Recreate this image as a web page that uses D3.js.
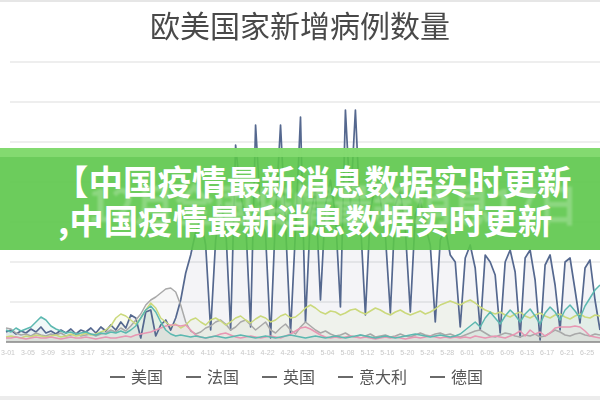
<!DOCTYPE html>
<html><head><meta charset="utf-8">
<script src="https://cdn.jsdelivr.net/npm/d3@7"></script>
<style>html,body{margin:0;padding:0;background:#fff;}svg{display:block;}</style>
</head><body>
<svg id="c" width="600" height="400"></svg>
<script>
const title = "欧美国家新增病例数量";
const seriesNames = ["美国", "法国", "英国", "意大利", "德国"];
const seriesColors = ["#55688f", "#a9a9a9", "#cbd97c", "#e897b3", "#5cb8b0"];
const tickLabels = ["3-01","3-05","3-09","3-13","3-17","3-21","3-25","3-29","4-02","4-06","4-10","4-14","4-18","4-22","4-26","4-30","5-04","5-08","5-12","5-16","5-20","5-24","5-28","6-01","6-05","6-09","6-13","6-17","6-21","6-25"];
const yTicks = [0,10000,20000,30000,40000,50000,60000,70000];
const bannerLines = ["【中国疫情最新消息数据实时更新", ",中国疫情最新消息数据实时更新"];
const bannerShadow = "12月全国疫情最新消息17日";

const usa = [2500,3000,2000,2750,2250,3250,2500,3750,2250,2750,
2000,3000,2250,3250,2000,3000,2500,3500,2250,3750,
2750,4250,3000,5000,3500,6750,6000,1000,7500,8000,
1500,4250,5500,3000,6000,10500,17250,21750,27500,31000,
24250,3000,25500,34250,29250,3000,49250,36750,30500,3750,
54250,33000,26750,1000,31750,54250,29250,2250,28000,56250,
5000,31750,38000,10500,34250,40500,31750,8750,58000,34250,
58000,30500,6750,33000,39250,35500,26750,7250,34250,38000,
28000,7500,31750,35500,29250,24250,5000,25500,28500,21750,
20000,3750,21000,24250,18500,3000,21750,20000,16750,2250,
20000,23000,17500,1250,21000,23000,15500,500,19250,21750,
14250,3000,20000,21000,13000,4750,18500,20500,10500,3000];
const france = [3500,3250,2250,1750,2000,1500,2250,1750,1500,2000,
1750,2250,1500,1750,2250,1500,1750,2000,1500,2000,
2250,3000,2500,3500,2750,4000,5500,7000,9250,10500,
11250,12250,13250,13500,12500,9250,5000,2750,2000,2500,
3500,4000,5000,5500,4500,3000,3750,5000,5500,4250,
3000,4000,5000,3000,2250,3500,4500,3000,2000,3750,
5000,4000,3000,2250,2750,2000,1500,1750,2250,1500,
1250,1750,1500,2000,1250,1500,1750,1250,1500,2000,
1500,1250,1750,2250,1750,1500,2000,2250,1750,2000,
1500,1250,1750,2250,2750,3000,2250,1500,1250,1750,
2250,2000,1500,1250,1750,1500,2000,1250,1500,2250,
3000,2500,1750,1500,2000,2250,1750,1500,2000,1750];
const uk = [1250,1500,1250,1000,1500,1250,1750,1500,1250,1500,
1750,1250,1500,2000,1500,1750,2250,1750,2000,2500,
3000,4000,6000,7000,6500,5500,4500,6000,8000,9750,
8500,6000,5000,4000,4500,3500,4250,5500,6000,5000,
4250,5500,6000,5250,4250,5000,6000,6500,5500,4750,
5750,6500,6000,5000,5500,6500,7000,6000,6250,7250,
8500,9250,8500,7500,7000,7750,7500,6750,7250,8000,
8250,7500,7000,7750,8500,8000,7250,6750,7500,8000,
7250,6750,7250,7750,7000,7500,8250,9250,9750,10250,
9750,9250,10000,10500,9750,8750,8000,7500,7000,7500,
6750,6250,7000,7500,6500,6000,6750,7250,6500,6000,
6750,7000,6250,5750,6500,7000,6250,6000,6750,6500];
const italy = [1000,1000,1250,1000,750,1000,1250,1000,1000,1250,
1000,750,1000,1250,1000,1000,1250,1000,750,1000,
1250,1000,1000,1250,1500,1250,1750,2000,2250,2500,
3000,3500,4000,4250,4250,4000,4250,3000,1750,1250,
1000,1250,1500,2000,2250,1750,1250,1000,1250,1500,
1250,1000,1250,1500,1250,1000,1500,2000,2750,3500,
3750,3250,2500,1750,1250,1000,1250,1000,1250,1500,
1250,1000,1250,1000,750,1000,1250,1000,1250,1000,
750,1000,1250,1000,1250,1500,1250,1000,1250,1000,
1250,1000,1250,1000,1500,1250,1000,1250,1500,1250,
1000,1500,2000,2750,1500,3000,2000,2500,1500,2250,
3500,3750,3750,3750,4000,3750,2750,1500,1250,1000];
const germany = [3000,2500,3500,2750,3250,3750,5000,6250,5500,4000,
3250,2750,2250,2500,2000,2250,2500,2000,1750,2250,
2000,2500,2250,2750,2250,3000,4000,6000,8000,9000,
7500,5000,3000,2000,1500,1750,1500,1250,1500,1250,
1000,1250,1500,1250,1000,1250,1500,1750,1500,1250,
1000,1250,1500,1250,1000,1250,1500,1750,1500,1250,
1000,1250,1500,1250,1000,1250,1500,1250,1000,1250,
1500,1750,1500,1250,1000,1250,1500,1250,1000,1250,
1500,1750,2000,1750,1500,1250,1500,1750,1500,1250,
1500,2000,3000,4000,5000,3750,6000,7500,6000,4500,
6500,8000,6750,5000,7000,8250,6500,4500,7250,8750,
7500,5500,8000,9250,7750,6000,9000,11000,13000,14250];

const seriesValues = [usa, france, uk, italy, germany];
const n = usa.length;

const svg = d3.select("#c");
const defs = svg.append("defs");
defs.append("filter").attr("id","soft").append("feGaussianBlur").attr("stdDeviation",0.55);
defs.append("filter").attr("id","soft2").append("feGaussianBlur").attr("stdDeviation",1.2);

svg.append("rect").attr("x",0).attr("y",0).attr("width",600).attr("height",2).attr("fill","#e6e6e6");
svg.append("rect").attr("x",0).attr("y",396).attr("width",600).attr("height",4).attr("fill","#ececec");

const x = d3.scaleLinear().domain([0, n-1]).range([6, 600]);
const y = d3.scaleLinear().domain([0, 70000]).range([342, 62]);

const g = svg.append("g").attr("filter","url(#soft)");

g.append("text").attr("x",300).attr("y",37).attr("text-anchor","middle")
  .attr("font-family","'Noto Sans CJK SC', sans-serif").attr("font-size",30)
  .attr("fill","#4a4a4a").text(title);

g.selectAll("line.grid").data(yTicks).enter().append("line")
  .attr("x1",10).attr("x2",600).attr("y1",d=>y(d)).attr("y2",d=>y(d))
  .attr("stroke","#e8e8e8").attr("stroke-width",1.3);

const area = d3.area().x((d,i)=>x(i)).y0(y(0)).y1(d=>y(d));
const line = d3.line().x((d,i)=>x(i)).y(d=>y(d));

seriesValues.forEach((vals, k) => {
  g.append("path").datum(vals).attr("d", area)
    .attr("fill", seriesColors[k]).attr("fill-opacity", k===0 ? 0.07 : 0.09);
});
g.append("line").attr("x1",6).attr("x2",600).attr("y1",y(0)).attr("y2",y(0))
  .attr("stroke","#8a8a8a").attr("stroke-width",1.5);
seriesValues.forEach((vals, k) => {
  g.append("path").datum(vals).attr("d", line)
    .attr("fill","none").attr("stroke", seriesColors[k])
    .attr("stroke-width", k===0 ? 1.7 : 1.5).attr("stroke-linejoin","round");
});

g.selectAll("text.tick").data(tickLabels).enter().append("text")
  .attr("x",(d,i)=>x(i*4)+2).attr("y",355).attr("text-anchor","middle")
  .attr("font-family","'Liberation Sans', sans-serif").attr("font-size",7)
  .attr("fill","#c8c8c8").text(d=>d);

// legend
const lg = g.append("g");
let lx = 110;
seriesNames.forEach((name, k) => {
  lg.append("line").attr("x1",lx).attr("x2",lx+15).attr("y1",377).attr("y2",377)
    .attr("stroke","#6a6a6a").attr("stroke-width",2);
  lg.append("text").attr("x",lx+21).attr("y",383)
    .attr("font-family","'Noto Sans CJK SC', sans-serif").attr("font-size",16)
    .attr("fill","#555555").text(name);
  lx += 21 + name.length*16 + 23;
});

// banner overlay
const b = svg.append("g");
b.append("rect").attr("x",0).attr("y",148).attr("width",600).attr("height",102)
  .attr("fill","#5cc64a").attr("fill-opacity",0.9);
b.append("rect").attr("x",0).attr("y",148).attr("width",600).attr("height",9)
  .attr("fill","#86dc72").attr("fill-opacity",0.9);
b.append("text").attr("x",88).attr("y",222)
  .attr("font-family","'Noto Sans CJK SC', sans-serif").attr("font-weight",700).attr("font-size",44)
  .attr("textLength",490).attr("lengthAdjust","spacingAndGlyphs")
  .attr("filter","url(#soft2)")
  .attr("fill","#ffffff").attr("fill-opacity",0.22).text(bannerShadow);
b.selectAll("text.bl").data(bannerLines).enter().append("text")
  .attr("x",(d,i)=> i===0 ? 54 : 58).attr("y",(d,i)=> i===0 ? 195 : 234)
  .attr("font-family","'Noto Sans CJK SC', sans-serif").attr("font-weight",700).attr("font-size",34.5)
  .attr("fill","#ffffff").text(d=>d);
</script>
</body></html>
